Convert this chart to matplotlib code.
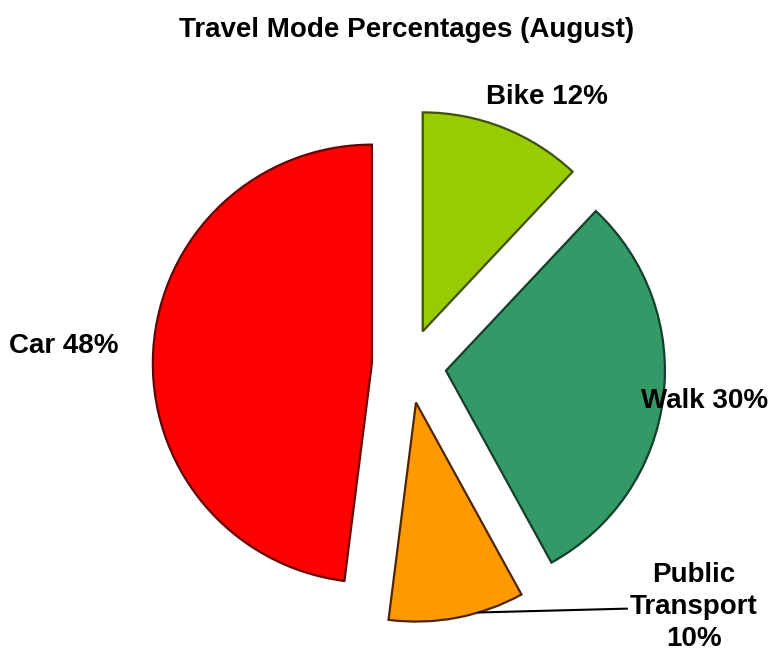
import numpy as np
import matplotlib.pyplot as plt

plt.rcParams['font.family'] = ['Liberation Sans', 'DejaVu Sans']

# data
modes = ['Bike', 'Walk', 'Public\nTransport', 'Car']
shares = [12, 30, 10, 48]
fills = ['#99cc00', '#339966', '#ff9900', '#ff0000']
edges = ['#3d5200', '#14402a', '#4d2600', '#660000']

# label centres (data units, pie radius = 1)
label_pos = [(0.63, 1.23), (1.35, -0.16), (1.30, -1.10), (-1.575, 0.09)]

fig = plt.figure(figsize=(7.82, 6.53), dpi=100)
ax = fig.add_axes([0, 0, 1, 1])

wedges, _ = ax.pie(shares, startangle=90, counterclock=False,
                   explode=[0.17] * len(shares), colors=fills,
                   wedgeprops=dict(linewidth=1.6))
for w, ec in zip(wedges, edges):
    w.set_edgecolor(ec)

for i, (name, val) in enumerate(zip(modes, shares)):
    x, y = label_pos[i]
    if '\n' in name:
        txt = f'{name}\n{val}%'
        w = wedges[i]
        ang = np.deg2rad(w.theta1 + 0.66 * (w.theta2 - w.theta1))
        cx, cy = w.center
        start = (cx + w.r * np.cos(ang), cy + w.r * np.sin(ang))
        ax.annotate(txt, xy=start, xytext=(x, y), ha='center', va='center',
                    fontsize=20, fontweight='bold', linespacing=1.3,
                    arrowprops=dict(arrowstyle='-', color='black', lw=1.5,
                                    shrinkA=0, shrinkB=0), zorder=5)
    else:
        ax.text(x, y, f'{name} {val}%', ha='center', va='center', fontsize=20,
                fontweight='bold', zorder=5)

scale = 219  # pixels per pie radius
ax.set_xlim(-409 / scale, (782 - 409) / scale)
ax.set_ylim(-(653 - 366) / scale, 366 / scale)
ax.axis('off')

fig.text(0.52, 0.954, 'Travel Mode Percentages (August)', ha='center',
         va='center', fontsize=20, fontweight='bold')

fig.savefig('out.png', dpi=100)
